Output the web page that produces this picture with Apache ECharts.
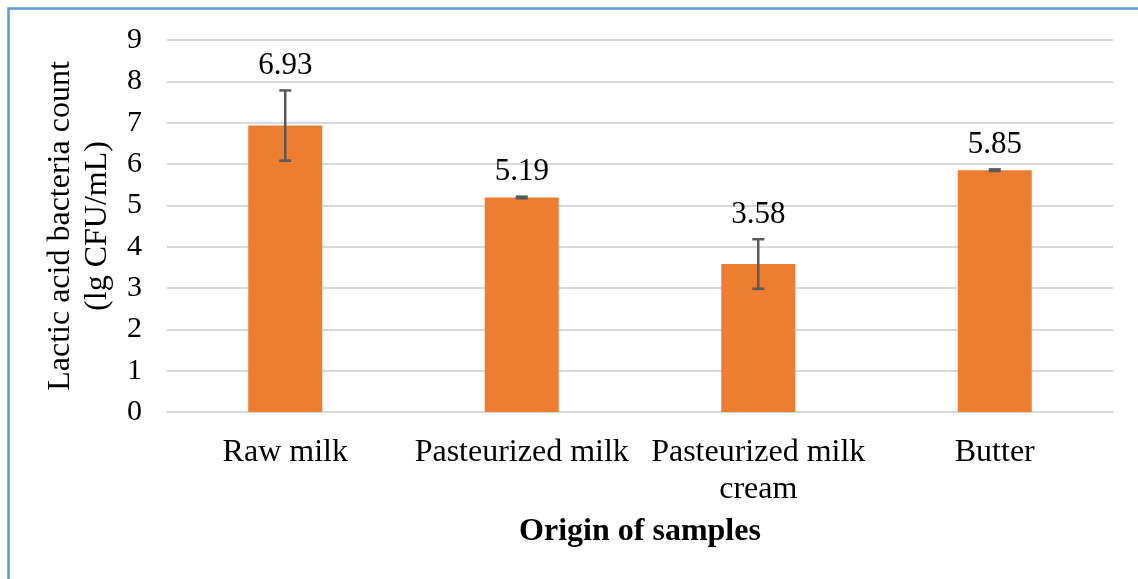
<!DOCTYPE html>
<html>
<head>
<meta charset="utf-8">
<script src="https://cdn.jsdelivr.net/npm/echarts@6/dist/echarts.min.js"></script>
<style>
html,body{margin:0;padding:0;background:#fff;}
#chart{width:1138px;height:579px;}
</style>
</head>
<body>
<div id="chart"></div>
<script>
const categories = ['Raw milk', 'Pasteurized milk', 'Pasteurized milk\ncream', 'Butter'];
const values = [6.93, 5.19, 3.58, 5.85];
const errors = [0.85, 0.02, 0.60, 0.02];
const yTicks = [0, 1, 2, 3, 4, 5, 6, 7, 8, 9];

const FONT = '"Liberation Serif", "Times New Roman", serif';
const chart = echarts.init(document.getElementById('chart'));

chart.setOption({
  backgroundColor: '#fff',
  animation: false,
  graphic: [{
    type: 'rect',
    shape: { x: 8.5, y: 8.5, width: 1400, height: 900 },
    style: { fill: 'none', stroke: '#5B9BD5', lineWidth: 2.5 },
    z: 100
  }],
  grid: { left: 167, right: 25, top: 40, bottom: 167, containLabel: false },
  xAxis: {
    type: 'category',
    data: categories,
    axisTick: { show: false },
    axisLine: { lineStyle: { color: '#D9D9D9', width: 2 } },
    axisLabel: {
      color: '#000', fontFamily: FONT, fontSize: 32, lineHeight: 37,
      margin: 22, interval: 0
    },
    name: 'Origin of samples',
    nameLocation: 'middle',
    nameGap: 104,
    nameTextStyle: { color: '#000', fontFamily: FONT, fontSize: 32, fontWeight: 'bold' }
  },
  yAxis: {
    type: 'value',
    min: yTicks[0],
    max: yTicks[yTicks.length - 1],
    interval: 1,
    axisLine: { show: false },
    axisTick: { show: false },
    splitLine: { lineStyle: { color: '#D9D9D9', width: 2 } },
    axisLabel: { color: '#000', fontFamily: FONT, fontSize: 30, margin: 25 },
    name: 'Lactic acid bacteria count\n(lg CFU/mL)',
    nameLocation: 'middle',
    nameGap: 48,
    nameRotate: 90,
    nameTextStyle: { color: '#000', fontFamily: FONT, fontSize: 32, lineHeight: 37 }
  },
  series: [
    {
      type: 'bar',
      data: values,
      barWidth: '31.3%',
      itemStyle: { color: '#ED7D31' },
      z: 2
    },
    {
      type: 'custom',
      data: values.map((v, i) => [i, v, errors[i]]),
      z: 5,
      renderItem: function (params, api) {
        const x = api.value(0), v = api.value(1), e = api.value(2);
        const top = api.coord([x, v + e]);
        const bot = api.coord([x, v - e]);
        const half = 6;
        const ls = { stroke: '#595959', lineWidth: 2.5 };
        return {
          type: 'group',
          children: [
            { type: 'line', shape: { x1: top[0], y1: top[1], x2: bot[0], y2: bot[1] }, style: ls },
            { type: 'line', shape: { x1: top[0] - half, y1: top[1], x2: top[0] + half, y2: top[1] }, style: ls },
            { type: 'line', shape: { x1: bot[0] - half, y1: bot[1], x2: bot[0] + half, y2: bot[1] }, style: ls },
            {
              type: 'text',
              style: {
                text: v.toFixed(2), x: top[0], y: top[1] - 9,
                align: 'center', verticalAlign: 'bottom',
                fontSize: 31, fontFamily: FONT, fill: '#000'
              }
            }
          ]
        };
      }
    }
  ]
});
</script>
</body>
</html>
